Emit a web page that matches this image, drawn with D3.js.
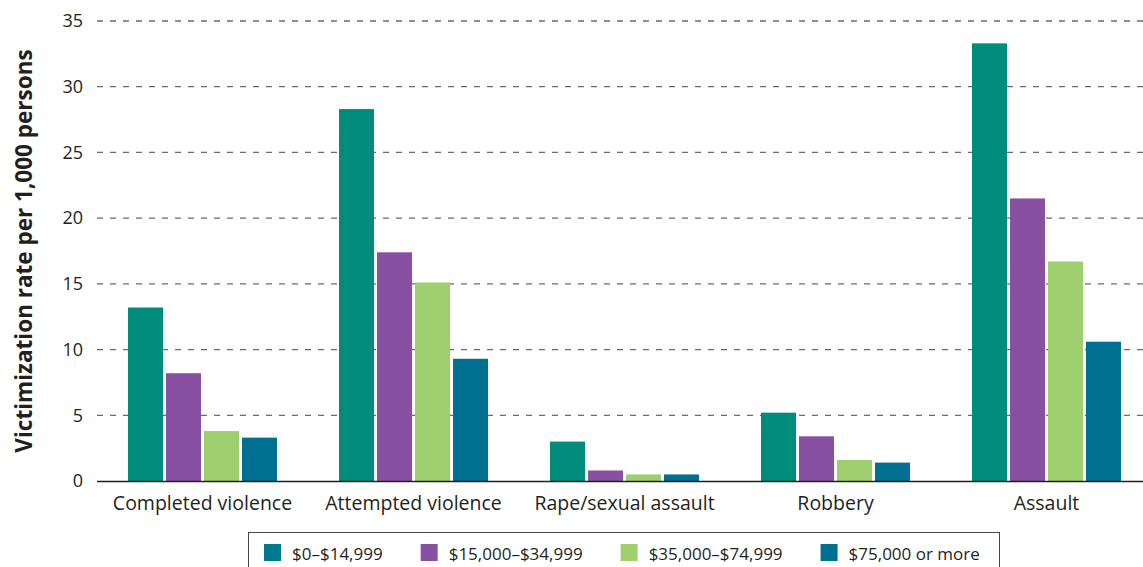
<!DOCTYPE html>
<html><head><meta charset="utf-8">
<script src="https://cdn.jsdelivr.net/npm/d3@7"></script>
<style>body{margin:0;background:#fff;} svg{display:block;}</style>
</head><body>
<svg id="chart" width="1143" height="567"></svg>
<script>
const categories = ["Completed violence","Attempted violence","Rape/sexual assault","Robbery","Assault"];
const seriesNames = ["$0–$14,999","$15,000–$34,999","$35,000–$74,999","$75,000 or more"];
const income0_14999 = [13.2, 28.3, 3.0, 5.2, 33.3];
const income15000_34999 = [8.2, 17.4, 0.8, 3.4, 21.5];
const income35000_74999 = [3.8, 15.1, 0.5, 1.6, 16.7];
const income75000plus = [3.3, 9.3, 0.5, 1.4, 10.6];
const yTicks = [0,5,10,15,20,25,30,35];
const barColors = ["#008C7A","#8750A0","#9ECE6E","#007090"];
const legendColors = ["#007B8C","#8750A0","#9ECE6E","#007090"];

const seriesValues = [income0_14999, income15000_34999, income35000_74999, income75000plus];
const svg = d3.select("#chart");
const font = "'Open Sans', sans-serif";

const y = d3.scaleLinear().domain([0,35]).range([481,21]);
const x0 = d3.scaleBand().domain(categories).range([97,1152]).paddingInner(0.294).paddingOuter(0.147);
const x1 = d3.scaleBand().domain(seriesNames).range([0,x0.bandwidth()]).paddingInner(3/38);

// gridlines
svg.append("g").selectAll("line").data(yTicks.filter(d=>d>0)).join("line")
  .attr("x1",97).attr("x2",1143)
  .attr("y1",d=>y(d)).attr("y2",d=>y(d))
  .attr("stroke","#6b6b6b").attr("stroke-width",1.3).attr("stroke-dasharray","6,7");

// y tick labels
const yAxis = d3.axisLeft(y).tickValues(yTicks).tickSize(0).tickPadding(0);
const gy = svg.append("g").attr("transform","translate(83,0)").call(yAxis);
gy.select(".domain").remove();
gy.selectAll("text").attr("font-family",font).attr("font-size",18).attr("fill","#231f20");

// bars
const groups = svg.append("g").selectAll("g").data(categories).join("g")
  .attr("transform",c=>`translate(${x0(c)},0)`);
groups.selectAll("rect").data((c,ci)=>seriesNames.map((s,si)=>({s,si,v:seriesValues[si][ci]}))).join("rect")
  .attr("x",d=>x1(d.s)).attr("width",x1.bandwidth())
  .attr("y",d=>y(d.v)).attr("height",d=>y(0)-y(d.v))
  .attr("fill",d=>barColors[d.si]);

// x axis
const xAxis = d3.axisBottom(x0).tickSize(0).tickPadding(0);
const gx = svg.append("g").attr("transform",`translate(0,${y(0)})`).call(xAxis);
gx.select(".domain").remove();
gx.selectAll("text").attr("dy",null).attr("y",29).attr("font-family",font).attr("font-size",19.5).attr("fill","#231f20");
svg.append("line").attr("x1",97).attr("x2",1143).attr("y1",y(0)+0.5).attr("y2",y(0)+0.5)
  .attr("stroke","#231f20").attr("stroke-width",1.6);

// y title
svg.append("text").attr("transform","translate(32,251) rotate(-90)")
  .attr("text-anchor","middle").attr("font-family",font).attr("font-weight","bold")
  .attr("font-size",22.5).attr("fill","#231f20").text("Victimization rate per 1,000 persons");

// legend
const lg = svg.append("g");
lg.append("rect").attr("x",248.5).attr("y",532.5).attr("width",751).attr("height",50)
  .attr("fill","none").attr("stroke","#444").attr("stroke-width",1);
let lx = 264;
seriesNames.forEach((s,i)=>{
  lg.append("rect").attr("x",lx).attr("y",544).attr("width",17).attr("height",17).attr("fill",legendColors[i]);
  const t = lg.append("text").attr("x",lx+28).attr("y",560).attr("font-family",font)
    .attr("font-size",17).attr("fill","#231f20").text(s);
  lx = lx + 28 + t.node().getComputedTextLength() + 38;
});
</script>
</body></html>
